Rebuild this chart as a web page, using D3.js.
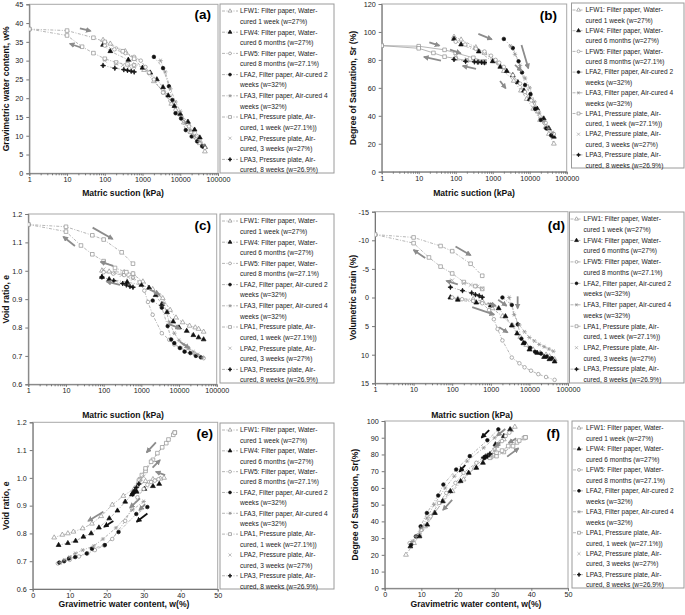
<!DOCTYPE html>
<html><head><meta charset="utf-8">
<script src="https://cdn.jsdelivr.net/npm/d3@7"></script>
<style>body{margin:0;background:#fff}svg{display:block}text{font-family:Arial,"Liberation Sans",sans-serif}</style>
</head><body><svg id="c" width="685" height="615"></svg>
<script>
// ---------------- DATA ----------------
// s: matric suction (kPa), w: gravimetric water content (%), Sr: degree of saturation (%), e: void ratio, ev: volumetric strain (%)
const LFW1_s  = [90, 140, 350, 600, 1100, 2000, 3700, 5800, 8300, 12500, 19000, 27000, 33000, 45000];
const LFW1_w  = [35.5, 34.5, 32.5, 30.5, 27.5, 24.5, 21.5, 18.5, 16, 13.5, 11, 9.5, 8, 5.8];
const LFW1_Sr = [96.5, 94.5, 89, 85, 79, 72, 65, 58, 52, 45, 37, 32, 27, 20];
const LFW1_e  = [1.000, 0.997, 0.995, 0.988, 0.962, 0.935, 0.903, 0.862, 0.835, 0.818, 0.806, 0.800, 0.795, 0.785];
const LFW1_ev = [0, 0.2, 0.3, 0.6, 1.9, 3.3, 4.9, 6.9, 8.3, 9.1, 9.7, 10.0, 10.3, 10.8];

const LFW4_s  = [90, 140, 420, 1000, 1600, 2400, 3500, 4800, 7000, 10000, 16000, 24000, 33000, 45000];
const LFW4_w  = [34.2, 32.5, 30.2, 28.1, 26.8, 25, 22.9, 20.7, 17.9, 15.8, 13.7, 11.6, 9.5, 7.0];
const LFW4_Sr = [95, 91, 86, 79, 75, 72, 69, 64, 58, 52, 45, 38, 31, 25];
const LFW4_e  = [0.978, 0.970, 0.960, 0.950, 0.940, 0.914, 0.882, 0.854, 0.821, 0.800, 0.788, 0.773, 0.765, 0.758];
const LFW4_ev = [0, 0.4, 0.9, 1.4, 1.9, 3.3, 4.9, 6.3, 8.0, 9.1, 9.7, 10.4, 10.8, 11.2];

const LFW5_s  = [100, 180, 350, 600, 900, 1200, 1500, 2000, 3500, 5500, 7500, 11000, 17000, 27000, 45000];
const LFW5_w  = [34, 33, 32, 31, 30, 28.3, 26.8, 25, 21.5, 19.3, 16.8, 14.8, 12.5, 10, 6.8];
const LFW5_Sr = [93, 91, 88, 86, 83, 80, 78, 75, 69, 63, 57, 51, 43, 35, 27];
const LFW5_e  = [0.995, 0.990, 0.985, 0.975, 0.960, 0.930, 0.890, 0.845, 0.780, 0.757, 0.740, 0.728, 0.717, 0.705, 0.692];
const LFW5_ev = [0, 0.3, 0.6, 1.0, 2.2, 3.8, 5.5, 7.5, 10.5, 11.5, 12.2, 12.8, 13.4, 13.9, 14.4];

const LFA2_s  = [2000, 3500, 5000, 6200, 7500, 10500, 14000, 20000, 28000, 38000];
const LFA2_w  = [31, 28, 23.2, 19.5, 16, 14.6, 11.5, 9.8, 8.5, 7.2];
const LFA2_Sr = [95, 88.5, 79, 71, 62, 55.5, 45, 37, 31, 26];
const LFA2_e  = [0.895, 0.870, 0.805, 0.758, 0.745, 0.728, 0.715, 0.710, 0.700, 0.695];
const LFA2_ev = [0, 1.3, 4.7, 7.2, 7.9, 8.8, 9.5, 9.8, 10.3, 10.6];

const LFA3_s  = [3000, 4000, 5500, 7500, 10000, 13500, 18000, 24000, 32000, 42000];
const LFA3_w  = [30, 27, 22.5, 19, 16.5, 13.5, 11.5, 10, 8.5, 7.5];
const LFA3_Sr = [90, 84, 76, 67, 60, 50, 42, 36, 31, 28];
const LFA3_e  = [0.915, 0.885, 0.820, 0.780, 0.755, 0.740, 0.728, 0.715, 0.705, 0.695];
const LFA3_ev = [0, 3.0, 4.8, 6.0, 7.0, 7.6, 8.2, 8.6, 9.0, 9.4];

const LPA1d_s  = [1, 10, 50, 100, 300, 600];
const LPA1d_w  = [38.4, 38.0, 36.1, 35.0, 32.5, 30.5];
const LPA1d_Sr = [90.2, 89.8, 87.2, 85.0, 81.5, 79.0];
const LPA1d_e  = [1.163, 1.155, 1.125, 1.110, 1.065, 1.025];
const LPA1d_ev = [-11.0, -10.5, -9.0, -8.1, -5.9, -3.8];

const LPA1w_s  = [1, 10, 25, 50, 100, 200, 400, 600];
const LPA1w_w  = [38.4, 36.7, 33.7, 32.0, 30.5, 29.5, 29.0, 28.7];
const LPA1w_Sr = [90.2, 88.3, 85.0, 82.3, 81.0, 79.5, 78.5, 78.0];
const LPA1w_e  = [1.163, 1.138, 1.089, 1.058, 1.034, 1.010, 0.995, 0.990];
const LPA1w_ev = [-11.0, -9.5, -7.0, -5.4, -4.2, -2.7, -2.0, -1.5];

const LPA2_s  = [100, 200, 300, 450, 600];
const LPA2_w  = [30.0, 29.2, 28.8, 28.5, 28.3];
const LPA2_Sr = [82.5, 80.5, 79.8, 79.2, 78.8];
const LPA2_e  = [1.005, 0.995, 0.985, 0.978, 0.972];
const LPA2_ev = [-3.0, -2.5, -2.2, -1.9, -1.6];

const LPA3_s  = [90, 185, 320, 400, 500, 600];
const LPA3_w  = [28.7, 28.0, 27.6, 27.4, 27.2, 27.0];
const LPA3_Sr = [80.3, 79.0, 78.6, 78.4, 78.2, 78.0];
const LPA3_e  = [0.978, 0.965, 0.955, 0.950, 0.945, 0.942];
const LPA3_ev = [-1.8, -1.2, -0.8, -0.5, -0.3, -0.05];

const legendLines = [
  ["LFW1: Filter paper, Water-", "cured 1 week (w=27%)"],
  ["LFW4: Filter paper, Water-", "cured 6 months (w=27%)"],
  ["LFW5: Filter paper, Water-", "cured 8 months (w=27.1%)"],
  ["LFA2, Filter paper, Air-cured 2", "weeks (w=32%)"],
  ["LFA3, Filter paper, Air-cured 4", "weeks (w=32%)"],
  ["LPA1, Pressure plate, Air-", "cured, 1 week (w=27.1%))"],
  ["LPA2, Pressure plate, Air-", "cured, 3 weeks (w=27%)"],
  ["LPA3, Pressure plate, Air-", "cured, 8 weeks (w=26.9%)"]
];

const suctionTicks = [1, 10, 100, 1000, 10000, 100000];
const wTicks = [0, 5, 10, 15, 20, 25, 30, 35, 40, 45];
const SrTicks = [0, 20, 40, 60, 80, 100, 120];
const eTicks = [0.6, 0.7, 0.8, 0.9, 1.0, 1.1, 1.2];
const evTicks = [-15, -10, -5, 0, 5, 10, 15];
const wTicks2 = [0, 10, 20, 30, 40, 50];
const SrTicks2 = [0, 10, 20, 30, 40, 50, 60, 70, 80, 90, 100];

// annotation arrows (data coordinates): [x1, y1, x2, y2, black?]
const arrowsA = [[21.9,38.6,42,37.9,0],[23.2,33.5,11.9,34.5,0]];
const arrowsB = [[19.4,92.6,36.2,90.2,0],[40,79.5,13.9,82.1,0],[70,87.4,136,84.7,0],[410,98.6,940,94.7,0],[355,73.5,155,75.7,0],[1580,64.9,2240,59.7,0],[4000,76.4,6000,72.1,0],[6000,90.7,9200,74,0]];
const arrowsC = [[51,1.152,173,1.112,0],[17.3,1.087,8.5,1.120,0],[180,1.017,83,1.031,0],[272,0.95,120,0.962,0],[1630,0.935,3000,0.917,0],[5200,0.813,10600,0.797,0],[10600,0.75,18800,0.727,0]];
const arrowsD = [[122,-8.9,300,-7.4,0],[20,-6.9,10,-8.3,0],[140,-2.3,71,-2.9,0],[820,1.0,1350,1.45,0],[330,1.7,1220,3.0,0],[1550,0.4,2560,1.45,0],[4960,-0.2,4960,1.9,0],[1650,5.2,2720,6.1,0]];
const arrowsE = [[33.3,1.128,30.8,1.092,0],[32.4,1.037,34.4,1.064,0],[35.8,1.010,33.3,1.022,0],[19.1,0.878,15.0,0.845,0],[21.8,0.845,19.3,0.824,1],[29.0,0.926,26.3,0.893,0],[31.0,0.872,28.1,0.842,1],[30.4,0.905,28.8,0.884,0]];
const arrowsF = [[28.5,94.6,26.4,90.0,1],[32.9,95.2,30.6,91.2,0],[35.9,89.6,33.8,86.9,0],[33.4,78.7,36.5,83.7,0],[22,73.7,20.4,69.7,1],[18.4,52.8,15.9,46.8,0],[31.5,87.3,30.2,84.7,0]];

// ---------------- SERIES META ----------------
const GRAY = "#8f8f8f", LINEC = "#a3a3a3";
const series = [
  {sym:"tri", fill:"#fff", stroke:GRAY, line:true, paths:[{s:LFW1_s,w:LFW1_w,Sr:LFW1_Sr,e:LFW1_e,ev:LFW1_ev}]},
  {sym:"tri", fill:"#111", stroke:"#111", line:true, paths:[{s:LFW4_s,w:LFW4_w,Sr:LFW4_Sr,e:LFW4_e,ev:LFW4_ev}]},
  {sym:"circle", fill:"#fff", stroke:GRAY, line:true, paths:[{s:LFW5_s,w:LFW5_w,Sr:LFW5_Sr,e:LFW5_e,ev:LFW5_ev}]},
  {sym:"circle", fill:"#111", stroke:"#111", line:true, paths:[{s:LFA2_s,w:LFA2_w,Sr:LFA2_Sr,e:LFA2_e,ev:LFA2_ev}]},
  {sym:"aster", fill:"none", stroke:GRAY, line:true, paths:[{s:LFA3_s,w:LFA3_w,Sr:LFA3_Sr,e:LFA3_e,ev:LFA3_ev}]},
  {sym:"square", fill:"#fff", stroke:GRAY, line:true, solidIn:"b", paths:[{s:LPA1d_s,w:LPA1d_w,Sr:LPA1d_Sr,e:LPA1d_e,ev:LPA1d_ev},{s:LPA1w_s,w:LPA1w_w,Sr:LPA1w_Sr,e:LPA1w_e,ev:LPA1w_ev}]},
  {sym:"x", fill:"none", stroke:"#a0a0a0", line:false, paths:[{s:LPA2_s,w:LPA2_w,Sr:LPA2_Sr,e:LPA2_e,ev:LPA2_ev}]},
  {sym:"star4", fill:"#111", stroke:"#111", line:true, paths:[{s:LPA3_s,w:LPA3_w,Sr:LPA3_Sr,e:LPA3_e,ev:LPA3_ev}]}
];

function symPath(t, k){
  k = k || 1;
  if(t==="tri") return d3.symbol(d3.symbolTriangle, 10*k*k)();
  if(t==="circle") return d3.symbol(d3.symbolCircle, 10*k*k)();
  if(t==="square") return d3.symbol(d3.symbolSquare, 13*k*k)();
  const a = 2.2*k, b = 1.1*k, c = 1.9*k;
  if(t==="aster") return `M${-a},0H${a}M${-b},${-c}L${b},${c}M${-b},${c}L${b},${-c}`;
  const xx = 1.9*k;
  if(t==="x") return `M${-xx},${-xx}L${xx},${xx}M${-xx},${xx}L${xx},${-xx}`;
  const r = 2.5*k, q = 0.7*k;
  if(t==="star4") return `M0,${-r}L${q},${-q}L${r},0L${q},${q}L0,${r}L${-q},${q}L${-r},0L${-q},${-q}Z`;
}

// ---------------- PANELS ----------------
const panels = [
  {id:"a", xk:"s", yk:"w", px:[29.3,218], py:[173.3,4.3], xlog:true, yd:[0,45], yt:wTicks, yf:d=>String(d),
   xTitle:"Matric suction (kPa)", xtx:123, xty:196, yTitle:"Gravimetric water content, w%", ytx:9,
   lab:[211,19], leg:{x:220,y:4,r:334,b:173,mx:10,tx:20,l0:2,l1:18}, arrows:arrowsA},
  {id:"b", xk:"s", yk:"Sr", px:[381.7,566.7], py:[171.7,4], xlog:true, yd:[0,120], yt:SrTicks, yf:d=>String(d),
   xTitle:"Matric suction (kPa)", xtx:474, xty:196, yTitle:"Degree of Saturation, Sr (%)", ytx:356,
   lab:[557,20], leg:{x:571.5,y:3,r:684,b:168,mx:7,tx:14,l0:1,l1:12}, arrows:arrowsB},
  {id:"c", xk:"s", yk:"e", px:[28.3,216.7], py:[384.3,214], xlog:true, yd:[0.6,1.2], yt:eTicks, yf:d3.format(".1f"),
   xTitle:"Matric suction (kPa)", xtx:123, xty:418, yTitle:"Void ratio, e", ytx:9,
   lab:[211,230], leg:{x:220,y:214,r:334,b:383,mx:10,tx:20,l0:2,l1:18}, arrows:arrowsC},
  {id:"d", xk:"s", yk:"ev", px:[375,568], py:[211.7,383.3], xlog:true, yd:[-15,15], yt:evTicks, yf:d=>String(d),
   xTitle:"Matric suction (kPa)", xtx:472, xty:418, yTitle:"Volumetric strain (%)", ytx:356,
   lab:[565,230], leg:{x:569.5,y:212,r:684,b:383,mx:7,tx:14,l0:1,l1:12}, arrows:arrowsD},
  {id:"e", xk:"w", yk:"e", px:[32.7,217.7], py:[589,422.3], xlog:false, xd:[0,50], xt:wTicks2, yd:[0.6,1.2], yt:eTicks, yf:d3.format(".1f"),
   xTitle:"Gravimetric water content, w(%)", xtx:124, xty:607, yTitle:"Void ratio, e", ytx:9,
   lab:[213,438], leg:{x:220,y:423,r:334,b:589,mx:10,tx:20,l0:2,l1:18}, arrows:arrowsE},
  {id:"f", xk:"w", yk:"Sr", px:[384.7,568], py:[588.3,421], xlog:false, xd:[0,50], xt:wTicks2, yd:[0,100], yt:SrTicks2, yf:d=>String(d),
   xTitle:"Gravimetric water content, w(%)", xtx:476, xty:607, yTitle:"Degree of Saturation, Sr(%)", ytx:358,
   lab:[560,438], leg:{x:572,y:421,r:684,b:588,mx:7,tx:14,l0:1,l1:12}, arrows:arrowsF}
];

const svg = d3.select("#c");
const defs = svg.append("defs");
[["ahg","#8c8c8c"],["ahk","#111"]].forEach(([id,c])=>{
  defs.append("marker").attr("id",id).attr("viewBox","0 0 10 10").attr("refX",8).attr("refY",5)
    .attr("markerWidth",3.2).attr("markerHeight",3.2).attr("orient","auto")
    .append("path").attr("d","M0,0L10,5L0,10Z").attr("fill",c);
});

panels.forEach(P=>{
  const g = svg.append("g");
  const x = P.xlog ? d3.scaleLog().domain([1,100000]).range(P.px) : d3.scaleLinear().domain(P.xd).range(P.px);
  const y = d3.scaleLinear().domain(P.yd).range(P.py);
  const top = Math.min(P.py[0],P.py[1]), bot = Math.max(P.py[0],P.py[1]);
  g.append("rect").attr("x",P.px[0]).attr("y",top).attr("width",P.px[1]-P.px[0]).attr("height",bot-top)
    .attr("fill","none").attr("stroke","#a8a8a8").attr("stroke-width",1);
  let xa;
  if(P.xlog){
    xa = d3.axisBottom(x).tickValues(suctionTicks).tickFormat(d=>String(d)).tickSize(2.5).tickPadding(1.5);
    const minors = [];
    for(let d=1; d<100000; d*=10) for(let k=2;k<10;k++) minors.push(d*k);
    g.append("g").attr("transform",`translate(0,${bot})`).call(d3.axisBottom(x).tickValues(minors).tickFormat("").tickSize(2))
      .call(s=>{s.select(".domain").remove(); s.selectAll("line").attr("stroke","#777");});
  } else {
    xa = d3.axisBottom(x).tickValues(P.xt).tickFormat(d=>String(d)).tickSize(2.5).tickPadding(1.5);
  }
  g.append("g").attr("transform",`translate(0,${bot})`).call(xa)
    .call(s=>{s.select(".domain").attr("stroke","#777"); s.selectAll("line").attr("stroke","#777");
      s.selectAll("text").attr("font-size",7.2).attr("fill","#222");});
  g.append("g").attr("transform",`translate(${P.px[0]},0)`).call(d3.axisLeft(y).tickValues(P.yt).tickFormat(P.yf).tickSize(3))
    .call(s=>{s.select(".domain").attr("stroke","#777"); s.selectAll("line").attr("stroke","#777");
      s.selectAll("text").attr("font-size",7.2).attr("fill","#222");});
  g.append("text").attr("x",P.xtx).attr("y",P.xty).attr("text-anchor","middle").attr("font-size",8.6).attr("font-weight","bold").attr("fill","#111").text(P.xTitle);
  g.append("text").attr("transform",`translate(${P.ytx},${(top+bot)/2}) rotate(-90)`).attr("text-anchor","middle")
    .attr("font-size",8.6).attr("font-weight","bold").attr("fill","#111").text(P.yTitle);
  g.append("text").attr("x",P.lab[0]).attr("y",P.lab[1]).attr("text-anchor","end").attr("font-size",13.5).attr("font-weight","bold").attr("fill","#000").text("("+P.id+")");

  const clip = "clip"+P.id;
  defs.append("clipPath").attr("id",clip).append("rect").attr("x",P.px[0]).attr("y",top).attr("width",P.px[1]-P.px[0]).attr("height",bot-top);
  const data = g.append("g").attr("clip-path",`url(#${clip})`);
  const lineGen = d3.line().x(d=>x(d[0])).y(d=>y(d[1]));
  series.forEach(S=>{
    S.paths.forEach(p=>{
      const pts = p[P.xk].map((v,i)=>[v, p[P.yk][i]]);
      if(S.line){
        data.append("path").attr("d",lineGen(pts)).attr("fill","none").attr("stroke",LINEC).attr("stroke-width",0.8)
          .attr("stroke-dasharray", S.solidIn===P.id ? null : "3,1.5,1,1.5");
      }
    });
  });
  series.forEach(S=>{
    S.paths.forEach(p=>{
      const pts = p[P.xk].map((v,i)=>[v, p[P.yk][i]]);
      data.selectAll(null).data(pts).enter().append("path").attr("d",symPath(S.sym))
        .attr("transform",d=>`translate(${x(d[0])},${y(d[1])})`)
        .attr("fill",S.fill).attr("stroke",S.stroke).attr("stroke-width",0.7);
    });
  });
  P.arrows.forEach(a=>{
    g.append("line").attr("x1",x(a[0])).attr("y1",y(a[1])).attr("x2",x(a[2])).attr("y2",y(a[3]))
      .attr("stroke",a[4]?"#111":"#8c8c8c").attr("stroke-width",1.8).attr("marker-end",`url(#${a[4]?"ahk":"ahg"})`);
  });

  const L = P.leg;
  g.append("rect").attr("x",L.x).attr("y",L.y).attr("width",L.r-L.x).attr("height",L.b-L.y).attr("fill","#fff").attr("stroke","#9a9a9a").attr("stroke-width",1);
  series.forEach((S,i)=>{
    const yy = L.y + 7 + i*21.2*(L.b-L.y)/169;
    if(S.line) g.append("line").attr("x1",L.x+L.l0).attr("x2",L.x+L.l1).attr("y1",yy).attr("y2",yy)
      .attr("stroke",LINEC).attr("stroke-width",0.8).attr("stroke-dasharray","3,1.5,1,1.5");
    g.append("path").attr("d",symPath(S.sym,0.8)).attr("transform",`translate(${L.x+L.mx},${yy})`)
      .attr("fill",S.fill).attr("stroke",S.stroke).attr("stroke-width",0.7);
    const t = g.append("text").attr("x",L.x+L.tx).attr("y",yy+2.3).attr("font-size",6.6).attr("fill","#222");
    t.append("tspan").attr("x",L.x+L.tx).text(legendLines[i][0]);
    t.append("tspan").attr("x",L.x+L.tx).attr("dy",10.5).text(legendLines[i][1]);
  });
});
</script></body></html>
